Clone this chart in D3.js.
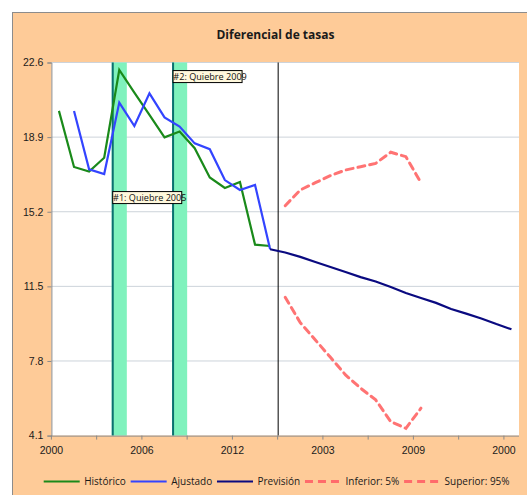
<!DOCTYPE html>
<html><head><meta charset="utf-8">
<script src="https://cdn.jsdelivr.net/npm/d3@7/dist/d3.min.js"></script>
<style>
html,body{margin:0;padding:0;background:#fff;}
svg{display:block;font-family:"Open Sans","Noto Sans",sans-serif;}
</style></head>
<body>
<svg id="c" width="527" height="495"></svg>
<script>
// ---- data ----
const categories = d3.range(31); // category index along the x axis
const tickLabels = ["2000","2006","2012","2003","2009","2000"];
const tickLabelCats = [0,6,12,18,24,30];
const yTicks = [4.1,7.8,11.5,15.2,18.9,22.6];
const historico = [20.20,17.42,17.19,17.88,22.23,21.11,20.00,18.89,19.18,18.35,16.90,16.38,16.68,13.57,13.50];
const ajustado  = [null,20.20,17.30,17.07,20.61,19.45,21.07,19.88,19.42,18.59,18.30,16.77,16.28,16.53,13.34];
const previsionStart = 14;
const prevision = [13.34,13.18,12.96,12.71,12.46,12.21,11.96,11.74,11.47,11.17,10.92,10.68,10.38,10.15,9.91,9.63,9.37];
const bandsStart = 15;
const inferior = [10.96,9.70,8.84,7.98,7.11,6.45,5.87,4.79,4.46,5.46];
const superior = [15.50,16.28,16.64,16.99,17.27,17.43,17.60,18.15,17.93,16.64];
const breakCats = [4,8];
const breakLabels = [{cat:4,value:16.2,text:"#1: Quiebre 2005"},{cat:8,value:22.2,text:"#2: Quiebre 2009"}];
const forecastCat = 15;
const seriesNames = ["Histórico","Ajustado","Previsión","Inferior: 5%","Superior: 95%"];

// ---- layout ----
const svg = d3.select("#c");
const L = 51.4, R = 519, T = 62.5, B = 435.6;
const x = d3.scaleBand().domain(categories).range([L,R]).padding(0);
const xc = i => x(i) + x.bandwidth()/2;
const y = d3.scaleLinear().domain([4.1,22.6]).range([B,T]);

const colors = {h:"#1a8a1a", a:"#3344ff", p:"#0a0a80", band:"#ff6b6b"};

// chart area
svg.append("rect").attr("x",12.5).attr("y",12.5).attr("width",560).attr("height",520)
  .attr("fill","#fecb98").attr("stroke","#8c8c8c").attr("stroke-width",1);
svg.append("rect").attr("x",L).attr("y",T).attr("width",R-L).attr("height",B-T).attr("fill","#fff");

// title
svg.append("text").attr("x",275.5).attr("y",38.5).attr("text-anchor","middle")
  .attr("font-size",12).attr("font-weight","bold").attr("fill","#1a1a1a").text("Diferencial de tasas");

// gridlines
svg.append("g").selectAll("line").data(yTicks.slice(1)).join("line")
  .attr("x1",L).attr("x2",R).attr("y1",d=>y(d)).attr("y2",d=>y(d))
  .attr("stroke","#cdd3da").attr("stroke-width",1);

// break bands
breakCats.forEach(c=>{
  svg.append("rect").attr("x",x(c)).attr("y",T).attr("width",x.bandwidth()).attr("height",B-T).attr("fill","#80f2bd");
  svg.append("line").attr("x1",x(c)+1).attr("x2",x(c)+1).attr("y1",T).attr("y2",B)
    .attr("stroke","#0b7070").attr("stroke-width",2);
});

// forecast line
svg.append("line").attr("x1",x(forecastCat)+0.5).attr("x2",x(forecastCat)+0.5).attr("y1",T).attr("y2",B)
  .attr("stroke","#000").attr("stroke-width",1);

// axes
const yAxis = d3.axisLeft(y).tickValues(yTicks).tickFormat(d3.format(".1f")).tickSize(4).tickPadding(4);
const gy = svg.append("g").attr("transform",`translate(${L},0)`).call(yAxis);
gy.select(".domain").attr("stroke","#8a8a8a");
gy.selectAll(".tick line").attr("stroke","#8a8a8a");
gy.selectAll("text").attr("font-size",10.5).attr("fill","#1a1a1a").attr("font-family",null);

const tickCats = d3.range(0,31,3);
const xAxis = d3.axisBottom(x).tickValues(tickCats).tickSize(4).tickPadding(7)
  .tickFormat(d=>{const k=tickLabelCats.indexOf(d); return k>=0?tickLabels[k]:"";});
const gx = svg.append("g").attr("transform",`translate(0,${B})`).call(xAxis);
gx.selectAll(".tick").attr("transform",d=>`translate(${x(d)},0)`);
gx.select(".domain").attr("stroke","#8a8a8a").attr("d",`M${L},0.5H${R}`);
gx.selectAll(".tick line").attr("stroke","#8a8a8a");
gx.selectAll("text").attr("font-size",10.5).attr("fill","#1a1a1a").attr("font-family",null);

// series
const line = d3.line().defined(d=>d.v!=null).x(d=>xc(d.i)).y(d=>y(d.v));
const toPts = (arr,off)=>arr.map((v,k)=>({i:k+off,v}));
svg.append("path").attr("d",line(toPts(historico,0))).attr("fill","none").attr("stroke",colors.h).attr("stroke-width",2.2);
svg.append("path").attr("d",line(toPts(ajustado,0))).attr("fill","none").attr("stroke",colors.a).attr("stroke-width",2.2);
svg.append("path").attr("d",line(toPts(prevision,previsionStart))).attr("fill","none").attr("stroke",colors.p).attr("stroke-width",2.2);
[inferior,superior].forEach(s=>{
  svg.append("path").attr("d",line(toPts(s,bandsStart))).attr("fill","none").attr("stroke",colors.band)
    .attr("stroke-width",3).attr("stroke-dasharray","7,5").attr("stroke-linecap","round").attr("opacity",0.95);
});

// break labels
breakLabels.forEach(b=>{
  const g = svg.append("g").attr("transform",`translate(${x(b.cat)+1},${y(b.value)})`);
  g.append("rect").attr("x",0).attr("y",0).attr("width",69).attr("height",12)
    .attr("fill","#fff8dc").attr("stroke","#000").attr("stroke-width",1);
  g.append("text").attr("x",0.3).attr("y",9.3).attr("font-size",9.1).attr("fill","#111").text(b.text);
});

// legend
const legY = 481.5;
let lx = 43.7;
const styles = [
  {c:colors.h,w:2.2,d:null},{c:colors.a,w:2.2,d:null},{c:colors.p,w:2.2,d:null},
  {c:colors.band,w:3,d:"8,5"},{c:colors.band,w:3,d:"8,5"}];
const lg = svg.append("g");
seriesNames.forEach((n,k)=>{
  const s = styles[k];
  const ln = lg.append("line").attr("x1",lx).attr("x2",lx+36).attr("y1",legY).attr("y2",legY)
    .attr("stroke",s.c).attr("stroke-width",s.w);
  if(s.d) ln.attr("stroke-dasharray",s.d);
  lx += 36+4.5;
  const t = lg.append("text").attr("x",lx).attr("y",legY+3.6).attr("font-size",10).attr("fill","#1a1a1a").text(n);
  lx += t.node().getComputedTextLength()+4.8;
});
</script>
</body></html>
